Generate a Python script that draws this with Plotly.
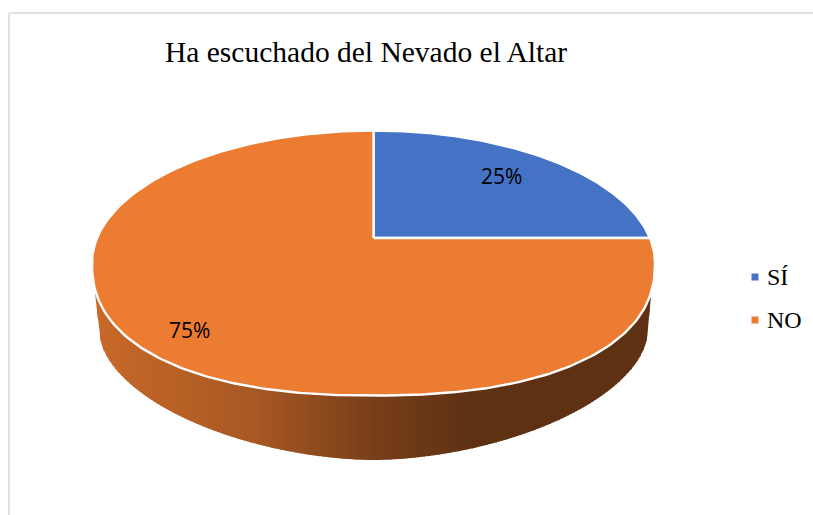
import numpy as np
import plotly.graph_objects as go

categories = ["SÍ", "NO"]
values = [25, 75]
colors = ["#4472C4", "#EB7C31"]
title_text = "Ha escuchado del Nevado el Altar"

# picture geometry (pixels; axes map 1:1 to the page)
CX, CY, RX, RY = 373.5, 263.0, 281.5, 132.5
AX, AY = 373.5, 238.0      # apex of the slices
LOW_P = 2.3
BX, BY, BRX, BRY, BP = 373.5, 333.0, 274.0, 127.0, 1.8
SQUASH = 0.7


def inside(x, y):
    dx = np.abs(x - CX) / RX
    dy = np.abs(y - CY) / RY
    p = np.where(y > CY, LOW_P, 2.0)
    return dx ** p + dy ** p <= 1


def rim(phi):
    """Point of the top face outline seen from the apex at pie angle phi."""
    dx, dy = np.sin(phi), -np.cos(phi) * SQUASH
    lo, hi = np.zeros_like(phi), np.full_like(phi, 500.0)
    for _ in range(40):
        mid = (lo + hi) / 2
        ok = inside(AX + dx * mid, AY + dy * mid)
        lo, hi = np.where(ok, mid, lo), np.where(ok, hi, mid)
    return AX + dx * lo, AY + dy * lo


def disc_low(x):
    d = np.clip(np.abs(x - CX) / RX, 0, 1)
    return CY + RY * (1 - d ** LOW_P) ** (1 / LOW_P)


def side_low(x):
    d = np.clip(np.abs(x - BX) / BRX, 0, 1)
    y = BY + BRY * (1 - d ** BP) ** (1 / BP)
    y = np.where(x < BX - BRX, np.interp(x, [94, 99.5], [284, 333]), y)
    y = np.where(x > BX + BRX, np.interp(x, [647.5, 652], [333, 286]), y)
    return y


fig = go.Figure()

# side wall: shaded version of the front slice
base = np.array([int(colors[1][i:i + 2], 16) for i in (1, 3, 5)])
edges = np.arange(94, 652, 3.0)
for x0 in edges:
    x1 = min(x0 + 4, 652)
    xs = np.linspace(x0, x1, 4)
    f = np.interp(x0, [94, 250, 373, 470], [0.85, 0.72, 0.51, 0.40])
    c = (base * f).astype(int)
    fig.add_trace(go.Scatter(
        x=np.r_[xs, xs[::-1]], y=np.r_[side_low(xs), disc_low(xs[::-1]) - 3],
        mode="lines", line=dict(width=0), fill="toself",
        fillcolor=f"rgb({c[0]},{c[1]},{c[2]})",
        hoverinfo="skip", showlegend=False))

# top face
total = sum(values)
start = 0.0
for name, v, col in zip(categories, values, colors):
    end = start + v / total * 2 * np.pi
    phi = np.linspace(start, end, 300)
    x, y = rim(phi)
    fig.add_trace(go.Scatter(
        x=np.r_[AX, x, AX], y=np.r_[AY, y, AY],
        mode="lines", line=dict(color="#FFFFFF", width=2.4), fill="toself",
        fillcolor=col, name=name, hoverinfo="name", showlegend=False))
    start = end

# legend
legend_y = [277, 320]
fig.add_trace(go.Scatter(
    x=[755, 755], y=legend_y, mode="markers",
    marker=dict(symbol="square", size=7, color=colors),
    hoverinfo="skip", showlegend=False))

annotations = [
    dict(x=765, y=yy, text=n, xanchor="left", yanchor="middle", showarrow=False,
         font=dict(family="Liberation Serif", size=24, color="#000000"))
    for n, yy in zip(categories, legend_y)
]
for v, (lx, ly) in zip(values, [(501, 176), (189, 330)]):
    annotations.append(dict(
        x=lx, y=ly, text=f"{v}%", showarrow=False, xanchor="center", yanchor="middle",
        font=dict(family="Open Sans", size=21, color="#000000")))
annotations.append(dict(
    x=366, y=52, text=title_text, showarrow=False, xanchor="center", yanchor="middle",
    font=dict(family="Liberation Serif", size=29.5, color="#000000")))

# chart frame
fig.add_shape(type="line", x0=9, y0=13, x1=813, y1=13, line=dict(color="#D9D9D9", width=1.5))
fig.add_shape(type="line", x0=9, y0=13, x1=9, y1=515, line=dict(color="#D9D9D9", width=1.5))

fig.update_layout(
    width=813, height=515, margin=dict(l=0, r=0, t=0, b=0),
    paper_bgcolor="#FFFFFF", plot_bgcolor="#FFFFFF",
    xaxis=dict(range=[0, 813], visible=False, fixedrange=True),
    yaxis=dict(range=[515, 0], visible=False, fixedrange=True),
    annotations=annotations, showlegend=False,
)
fig.write_html(
    "out.html",
    config={"displayModeBar": False},
    post_script="document.body.style.margin='0';document.documentElement.style.overflow='hidden';",
)
